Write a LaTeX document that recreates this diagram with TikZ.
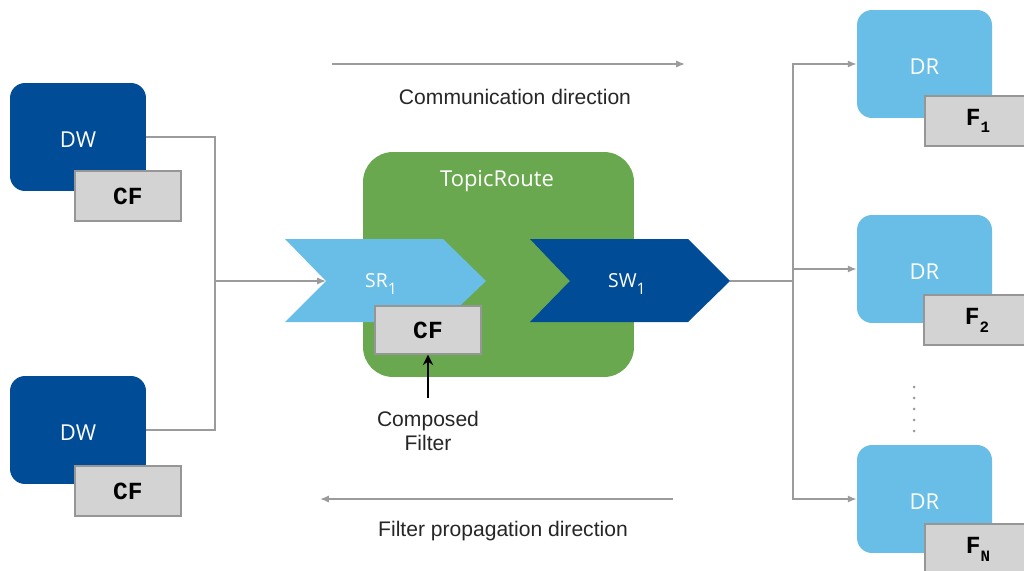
\documentclass[tikz,border=0pt]{standalone}
\usepackage{fontspec}
\setmainfont{Liberation Sans}
\setmonofont{Liberation Mono}
\newfontfamily\labelfont{Open Sans}
\usetikzlibrary{calc, positioning, arrows.meta}
\definecolor{WriterBlue}{RGB}{0,76,151}
\definecolor{ReaderBlue}{RGB}{104,190,230}
\definecolor{RouteGreen}{RGB}{106,168,79}
\definecolor{filtergrey}{RGB}{211,211,211}
\definecolor{edgegrey}{RGB}{150,150,150}
\definecolor{linegrey}{RGB}{155,155,155}
\newcommand{\lowidx}[1]{\raisebox{-0.6ex}{\fontsize{9}{10}\selectfont #1}}

\begin{document}
\begin{tikzpicture}[x=0.02cm, y=-0.02cm, font=\fontsize{12}{14}\selectfont,
  writer/.style={fill=WriterBlue, text=white, rounded corners=0.3cm,
    minimum width=2.72cm, minimum height=2.16cm, text height=12pt, text depth=0pt,
    font=\labelfont\fontsize{12.5}{14}\selectfont},
  reader/.style={writer, fill=ReaderBlue, minimum width=2.7cm},
  filterbox/.style={fill=filtergrey, draw=edgegrey, line width=0.7pt,
    minimum width=2.12cm, minimum height=1cm, inner sep=0pt,
    font=\ttfamily\bfseries\fontsize{14}{16}\selectfont},
  link/.style={linegrey, line width=0.8pt},
  flow/.style={link, -{Latex[length=5pt, width=4pt]}}]
  \useasboundingbox (0,0) rectangle (1024,571);

  % direction hints
  \coordinate (commstart) at (332,64);
  \coordinate (commend) at (685,64);
  \draw[flow] (commstart) -- (commend);
  \node[text=black!85] (commtxt) at (515,97) {Communication direction};
  \coordinate (propstart) at (673,499);
  \coordinate (propend) at (320,499);
  \draw[flow] (propstart) -- (propend);
  \node[text=black!85] (proptxt) at (503,531) {Filter propagation direction};

  % writers
  \node[writer] (dw1) at (78,137) {DW};
  \node[filterbox] (cf1) at (128,196) {CF};
  \node[writer] (dw2) at (78,430) {DW};
  \node[filterbox] (cf2) at (128,491) {CF};

  % topic route
  \node[fill=RouteGreen, rounded corners=0.6cm, minimum width=5.42cm,
    minimum height=4.5cm] (route) at (498.5,264.5) {};
  \node[text=white, font=\labelfont\fontsize{12.5}{14}\selectfont] (routetxt) at (497,181) {TopicRoute};
  \fill[ReaderBlue] (285,239) -- (443,239) -- (486,281) -- (443,322) -- (285,322) -- (326,281) -- cycle;
  \fill[WriterBlue] (530,239) -- (688,239) -- (730,281) -- (688,322) -- (530,322) -- (570,281) -- cycle;
  \coordinate (srin) at (326,281);
  \coordinate (swout) at (730,281);
  \node[text=white, font=\labelfont\fontsize{11}{12}\selectfont] (sr) at (381,284) {SR\lowidx{1}};
  \node[text=white, font=\labelfont\fontsize{11}{12}\selectfont] (sw) at (627,284) {SW\lowidx{1}};
  \node[filterbox, minimum height=0.96cm] (cf3) at (428,330) {CF};
  \node[align=center, text=black!85] (composed) at (428,431) {Composed\\Filter};
  \draw[black, line width=1.1pt, -{Stealth[length=6pt, width=6pt]}] ([yshift=4pt]composed.north) -- (cf3.south);

  % readers
  \node[reader] (dr1) at (924.5,64) {DR};
  \node[filterbox] (f1) at (978,121) {F\lowidx{1}};
  \node[reader] (dr2) at (924.5,269) {DR};
  \node[filterbox] (f2) at (977,320) {F\lowidx{2}};
  \node[reader] (dr3) at (924.5,499) {DR};
  \node[filterbox] (fn) at (978,549) {F\lowidx{N}};
  \foreach \y in {387,398,409,420,431}
    \fill[linegrey] (914,\y) circle (1.5);

  % connectors
  \coordinate (ljoin) at (215,281);
  \draw[link] (dw1.east) -| (ljoin);
  \draw[link] (dw2.east) -| (ljoin);
  \draw[flow] (ljoin) -- (srin);
  \coordinate (rjoin) at (793,281);
  \draw[link] (swout) -- (rjoin);
  \foreach \n in {dr1,dr2,dr3}
    \draw[flow] (rjoin) |- (\n.west);
\end{tikzpicture}
\end{document}
